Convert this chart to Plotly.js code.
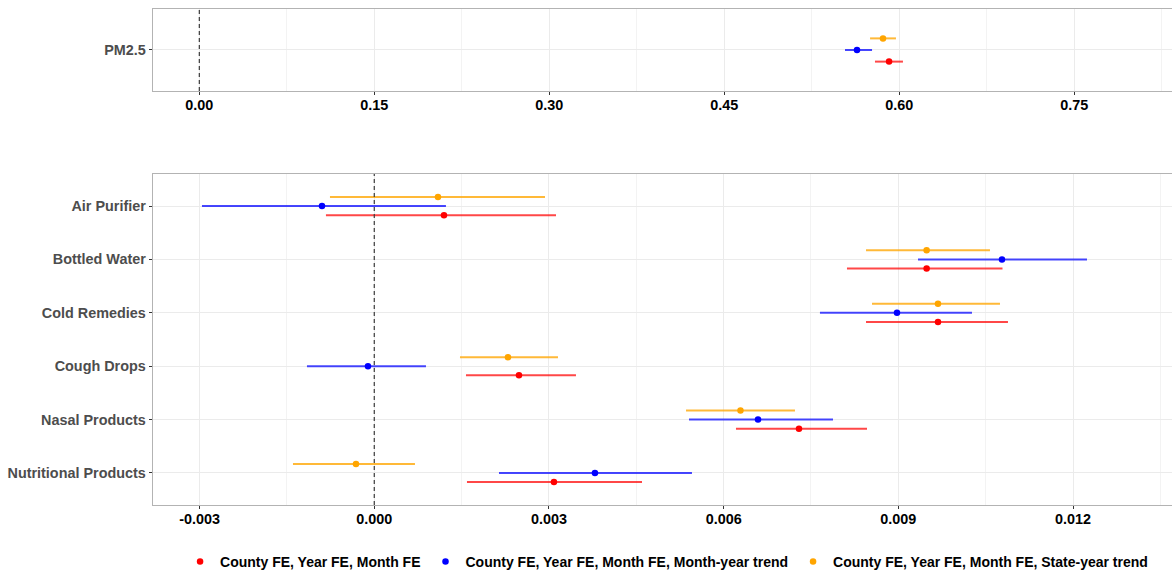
<!DOCTYPE html>
<html>
<head>
<meta charset="utf-8">
<script src="https://cdn.plot.ly/plotly-3.0.1.min.js"></script>
<style>html,body{margin:0;padding:0;background:#fff;}#chart{width:1172px;height:571px;}</style>
</head>
<body>
<div id="chart"></div>
<script>
// ---- data ----
const categories = ["Air Purifier","Bottled Water","Cold Remedies","Cough Drops","Nasal Products","Nutritional Products"];
const topCategory = ["PM2.5"];
const seriesNames = ["County FE, Year FE, Month FE","County FE, Year FE, Month FE, Month-year trend","County FE, Year FE, Month FE, State-year trend"];

// PM2.5 panel: estimate, lower, upper for each series
const pmEst = [0.5912, 0.5637, 0.5860];
const pmLo  = [0.5791, 0.5534, 0.5749];
const pmHi  = [0.6031, 0.5766, 0.5971];

// Products panel, series 1 (County FE, Year FE, Month FE)
const s1Est = [0.001197, 0.009486, 0.009681, 0.002485, 0.007294, 0.003086];
const s1Lo  = [-0.000830, 0.008118, 0.008445, 0.001575, 0.006212, 0.001592];
const s1Hi  = [0.003121, 0.010789, 0.010883, 0.003464, 0.008462, 0.004598];
// series 2 (Month-year trend)
const s2Est = [-0.000898, 0.010780, 0.008977, -0.000108, 0.006590, 0.003790];
const s2Lo  = [-0.002959, 0.009338, 0.007654, -0.001156, 0.005405, 0.002142];
const s2Hi  = [0.001231, 0.012240, 0.010265, 0.000888, 0.007878, 0.005456];
// series 3 (State-year trend)
const s3Est = [0.001094, 0.009486, 0.009681, 0.002296, 0.006289, -0.000314];
const s3Lo  = [-0.000761, 0.008445, 0.008548, 0.001472, 0.005354, -0.001396];
const s3Hi  = [0.002932, 0.010574, 0.010746, 0.003155, 0.007225, 0.000699];

const topTickVals = [0, 0.15, 0.30, 0.45, 0.60, 0.75];
const topTickText = ["0.00","0.15","0.30","0.45","0.60","0.75"];
const botTickVals = [-0.003, 0, 0.003, 0.006, 0.009, 0.012];
const botTickText = ["-0.003","0.000","0.003","0.006","0.009","0.012"];
const refLine = 0;

// ---- styling ----
const colors = ["#ff0000", "#0000ff", "#ffa500"];
const barColors = ["rgba(255,0,0,0.72)", "rgba(0,0,255,0.72)", "rgba(255,165,0,0.78)"];
const dodge = [0.17, 0, -0.17]; // red below, blue center, orange above (reversed axes)
const FONT = "Liberation Sans, Arial, Helvetica, sans-serif";

const bottomSeries = [[s1Est, s1Lo, s1Hi], [s2Est, s2Lo, s2Hi], [s3Est, s3Lo, s3Hi]];

const traces = [];
for (let s = 0; s < 3; s++) {
  traces.push({
    type: "scatter", mode: "markers",
    x: [pmEst[s]], y: [1 + dodge[s]],
    xaxis: "x", yaxis: "y",
    name: seriesNames[s], legendgroup: "g" + s, showlegend: true,
    marker: {color: colors[s], size: 6.5},
    error_x: {type: "data", symmetric: false,
      array: [pmHi[s] - pmEst[s]], arrayminus: [pmEst[s] - pmLo[s]],
      color: barColors[s], thickness: 2, width: 0},
    hoverinfo: "x+name"
  });
  const [est, lo, hi] = bottomSeries[s];
  traces.push({
    type: "scatter", mode: "markers",
    x: est, y: categories.map((c, i) => i + dodge[s]),
    xaxis: "x2", yaxis: "y2",
    name: seriesNames[s], legendgroup: "g" + s, showlegend: false,
    marker: {color: colors[s], size: 6.5},
    error_x: {type: "data", symmetric: false,
      array: est.map((v, i) => hi[i] - v), arrayminus: est.map((v, i) => v - lo[i]),
      color: barColors[s], thickness: 2, width: 0},
    hoverinfo: "x+name"
  });
}

const gridColor = "#ebebeb";
const minorGrid = "#f3f3f3";
const borderColor = "#b3b3b3";

const xCommon = {
  showline: true, mirror: true, linecolor: borderColor, linewidth: 1.3,
  ticks: "outside", ticklen: 3, tickcolor: "#333", tickwidth: 1,
  showgrid: true, gridcolor: gridColor, gridwidth: 1, zeroline: false,
  tickfont: {family: FONT, size: 14.4, color: "#000", weight: "bold"},
  tickmode: "array", fixedrange: true, automargin: false, ticklabelstandoff: -3
};
const yCommon = {
  showline: true, mirror: false, linecolor: borderColor, linewidth: 1.3,
  ticks: "outside", ticklen: 3, tickcolor: "#333", tickwidth: 1,
  showgrid: true, gridcolor: gridColor, gridwidth: 1, zeroline: false,
  tickfont: {family: FONT, size: 14.4, color: "#4d4d4d", weight: "bold"},
  tickmode: "array", fixedrange: true, automargin: false
};

const layout = {
  width: 1172, height: 571,
  margin: {l: 153, r: 0, t: 9, b: 66, autoexpand: false},
  paper_bgcolor: "#fff", plot_bgcolor: "#fff",
  showlegend: true,
  xaxis: Object.assign({}, xCommon, {
    domain: [0, 1], anchor: "y", range: [-0.0397, 0.8337],
    tickvals: topTickVals, ticktext: topTickText,
    minor: {tickmode: "linear", tick0: 0, dtick: 0.075, showgrid: true, gridcolor: minorGrid, gridwidth: 1, ticks: ""}
  }),
  yaxis: Object.assign({}, yCommon, {
    domain: [0.8347, 1], anchor: "x", range: [1.6, 0.4],
    tickvals: [1], ticktext: topCategory
  }),
  xaxis2: Object.assign({}, xCommon, {
    domain: [0, 1], anchor: "y2", range: [-0.0038, 0.0137],
    tickvals: botTickVals, ticktext: botTickText,
    minor: {tickmode: "linear", tick0: 0, dtick: 0.0015, showgrid: true, gridcolor: minorGrid, gridwidth: 1, ticks: ""}
  }),
  yaxis2: Object.assign({}, yCommon, {
    domain: [0, 0.6673], anchor: "x2", range: [5.6, -0.6],
    tickvals: categories.map((c, i) => i), ticktext: categories
  }),
  shapes: [
    {type: "line", xref: "x", yref: "y domain", x0: refLine, x1: refLine, y0: 0, y1: 1,
     line: {color: "#3a3a3a", width: 1.2, dash: "4px,3px"}, layer: "above"},
    {type: "line", xref: "x2", yref: "y2 domain", x0: refLine, x1: refLine, y0: 0, y1: 1,
     line: {color: "#3a3a3a", width: 1.2, dash: "4px,3px"}, layer: "above"}
  ],
  legend: {
    orientation: "h", x: 0.504, xanchor: "center",
    yref: "container", y: 0.016, yanchor: "middle",
    font: {family: FONT, size: 14, color: "#000", weight: "bold"},
    itemwidth: 30, traceorder: "normal", bgcolor: "rgba(0,0,0,0)"
  }
};

Plotly.newPlot("chart", traces, layout, {displayModeBar: false, staticPlot: true});
</script>
</body>
</html>
